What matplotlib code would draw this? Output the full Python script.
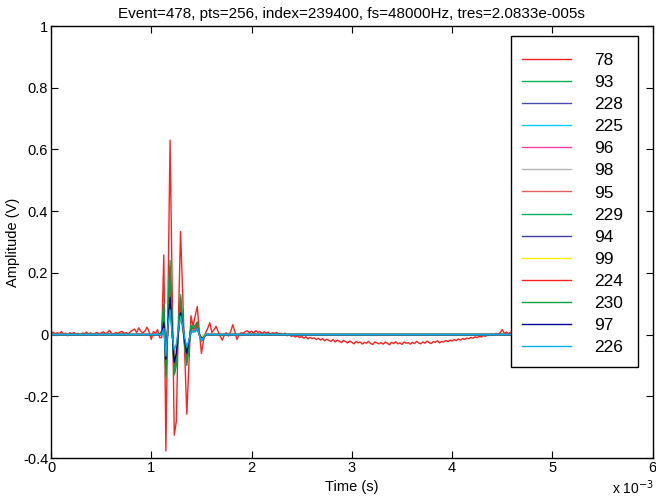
import numpy as np
import matplotlib
matplotlib.use("Agg")
import matplotlib.pyplot as plt
import matplotlib.ticker as mticker
from matplotlib.patches import Rectangle

plt.rcParams["font.family"] = ["Liberation Sans", "DejaVu Sans"]
plt.rcParams["axes.unicode_minus"] = False

# --- Data ---
TRES = 2.0833e-5
N_PTS = 256
BURST_START = 52          # first sample index of the burst lists below

CHANNELS = ["78", "93", "228", "225", "96", "98", "95", "229", "94", "99", "224", "230", "97", "226"]
COLORS = ["#ff2020", "#00b050", "#4b4bb4", "#00ccff", "#ff40a0", "#b4b4b4", "#e06060",
          "#00b060", "#4040a0", "#ffee00", "#ff2020", "#00a040", "#000090", "#00b0f0"]

# channel 78: full trace (256 samples)
ch78 = [
    0.004, 0.008, 0.002, 0.006, 0.003, 0.010, 0.001, 0.005, -0.004, 0.006, 0.002, 0.007, 0.000, 0.004, -0.003, 0.005,
    0.003, 0.008, 0.001, 0.006, -0.002, 0.004, 0.007, 0.002, 0.005, 0.009, 0.003, 0.006, 0.014, 0.004, 0.002, 0.007,
    0.003, 0.008, 0.010, 0.004, 0.006, 0.002, 0.009, 0.014, 0.018, 0.006, 0.022, 0.010, 0.005, 0.012, 0.024, 0.008,
    -0.016, 0.010, 0.004, 0.016, -0.010, -0.010, 0.258, -0.377, 0.120, 0.630, 0.150, -0.326, -0.280, 0.050, 0.334, 0.137,
    -0.060, -0.258, -0.100, 0.061, 0.027, 0.060, 0.091, 0.010, -0.061, -0.020, 0.006, 0.020, 0.038, 0.007, 0.015, 0.027,
    0.010, -0.005, -0.018, 0.000, 0.006, -0.005, 0.010, 0.032, 0.010, -0.016, 0.000, 0.006, 0.004, 0.010, 0.012, 0.006,
    0.011, 0.004, 0.013, 0.007, 0.010, 0.003, 0.009, 0.005, 0.008, 0.002, 0.006, 0.004, 0.007, 0.001, 0.004, -0.002,
    0.005, -0.004, 0.002, -0.006, -0.003, -0.008, -0.004, -0.010, -0.006, -0.012, -0.007, -0.014, -0.009, -0.013, -0.011, -0.016,
    -0.012, -0.018, -0.013, -0.020, -0.015, -0.019, -0.022, -0.016, -0.024, -0.018, -0.021, -0.026, -0.019, -0.023, -0.027, -0.021,
    -0.025, -0.030, -0.022, -0.027, -0.024, -0.031, -0.025, -0.028, -0.022, -0.029, -0.032, -0.024, -0.027, -0.030, -0.026, -0.031,
    -0.024, -0.028, -0.033, -0.025, -0.029, -0.023, -0.030, -0.027, -0.032, -0.024, -0.028, -0.026, -0.031, -0.025, -0.029, -0.022,
    -0.027, -0.030, -0.024, -0.028, -0.021, -0.026, -0.029, -0.023, -0.025, -0.020, -0.027, -0.022, -0.024, -0.019, -0.023, -0.018,
    -0.021, -0.016, -0.020, -0.014, -0.018, -0.013, -0.016, -0.011, -0.014, -0.009, -0.012, -0.007, -0.010, -0.005, -0.008, -0.003,
    -0.006, 0.000, -0.003, 0.002, -0.001, 0.004, 0.001, 0.006, 0.016, 0.004, 0.008, 0.003, 0.007, 0.002, 0.006, 0.003,
    0.008, 0.004, 0.006, 0.002, 0.007, 0.005, 0.009, 0.003, 0.006, 0.004, 0.008, 0.002, 0.005, 0.007, 0.003, 0.006,
    0.004, 0.008, 0.002, 0.005, 0.006, 0.003, 0.007, 0.004, 0.005, 0.002, 0.006, 0.003, 0.004, 0.005, 0.003, 0.004,
]

# other channels: samples 52..75, flat at 0 elsewhere
ch93 = [0.00, 0.01, 0.10, -0.14, 0.05, 0.24, 0.02, -0.13, -0.10, 0.02, 0.13, 0.05, -0.04, -0.10, -0.04, 0.03, 0.02, 0.03, 0.04, 0.00, -0.02, -0.01, 0.00, 0.00]
ch228 = [0.00, 0.00, 0.05, -0.10, 0.03, 0.12, 0.01, -0.09, -0.07, 0.01, 0.07, 0.03, -0.02, -0.06, -0.03, 0.01, 0.01, 0.02, 0.02, 0.00, -0.01, -0.01, 0.00, 0.00]
ch225 = [0.00, 0.00, 0.04, -0.08, 0.02, 0.10, 0.00, -0.07, -0.05, 0.01, 0.06, 0.02, -0.02, -0.05, -0.02, 0.01, 0.01, 0.01, 0.02, 0.00, -0.01, 0.00, 0.00, 0.00]
ch96 = [0.00, 0.01, 0.06, -0.09, 0.04, 0.15, 0.01, -0.08, -0.06, 0.02, 0.08, 0.03, -0.02, -0.07, -0.03, 0.02, 0.01, 0.02, 0.03, 0.00, -0.01, -0.01, 0.00, 0.00]
ch98 = [0.00, 0.00, 0.05, -0.07, 0.03, 0.13, 0.01, -0.07, -0.05, 0.01, 0.07, 0.02, -0.02, -0.06, -0.02, 0.01, 0.01, 0.01, 0.02, 0.00, -0.01, 0.00, 0.00, 0.00]
ch95 = [0.00, 0.01, 0.07, -0.10, 0.04, 0.17, 0.02, -0.09, -0.07, 0.02, 0.09, 0.04, -0.03, -0.07, -0.03, 0.02, 0.01, 0.02, 0.03, 0.00, -0.02, -0.01, 0.00, 0.00]
ch229 = [0.00, 0.01, 0.08, -0.12, 0.04, 0.20, 0.02, -0.12, -0.08, 0.02, 0.11, 0.04, -0.03, -0.09, -0.03, 0.02, 0.02, 0.02, 0.03, 0.00, -0.02, -0.01, 0.00, 0.00]
ch94 = [0.00, 0.00, 0.05, -0.11, 0.03, 0.11, 0.01, -0.10, -0.07, 0.01, 0.07, 0.03, -0.02, -0.07, -0.03, 0.01, 0.01, 0.01, 0.02, 0.00, -0.01, -0.01, 0.00, 0.00]
ch99 = [0.00, 0.00, 0.06, -0.09, 0.03, 0.09, 0.01, -0.08, -0.05, 0.01, 0.06, 0.02, -0.02, -0.05, -0.02, 0.01, 0.01, 0.01, 0.02, 0.00, -0.01, 0.00, 0.00, 0.00]
ch224 = [0.00, 0.01, 0.07, -0.11, 0.04, 0.14, 0.02, -0.10, -0.08, 0.02, 0.09, 0.03, -0.03, -0.08, -0.03, 0.02, 0.02, 0.02, 0.03, 0.00, -0.02, -0.01, 0.00, 0.00]
ch230 = [0.00, 0.01, 0.09, -0.13, 0.05, 0.22, 0.02, -0.13, -0.09, 0.02, 0.12, 0.05, -0.03, -0.09, -0.04, 0.03, 0.02, 0.03, 0.04, 0.00, -0.02, -0.01, 0.00, 0.00]
ch97 = [0.00, 0.00, 0.04, -0.08, 0.03, 0.12, 0.01, -0.09, -0.06, 0.01, 0.07, 0.03, -0.02, -0.06, -0.02, 0.01, 0.01, 0.01, 0.02, 0.00, -0.01, -0.01, 0.00, 0.00]
ch226 = [0.00, 0.00, 0.02, -0.07, 0.03, 0.08, 0.00, -0.05, -0.03, 0.02, 0.06, 0.03, -0.01, -0.04, -0.02, 0.01, 0.01, 0.01, 0.02, 0.00, -0.02, -0.01, 0.00, 0.00]

BURSTS = [ch93, ch228, ch225, ch96, ch98, ch95, ch229, ch94, ch99, ch224, ch230, ch97, ch226]


def full_trace(burst):
    y = np.zeros(N_PTS)
    y[BURST_START:BURST_START + len(burst)] = burst
    return y


traces = [np.array(ch78)] + [full_trace(b) for b in BURSTS]
t = np.arange(N_PTS) * TRES

# --- Plot ---
fig = plt.figure(figsize=(6.56, 4.99), dpi=100)
ax = fig.add_axes([51 / 656, 41 / 499, 601.7 / 656, 432 / 499])

for y, c, name in zip(traces, COLORS, CHANNELS):
    ax.plot(t, y, color=c, linewidth=1.0, label=name)

ax.set_xlim(0, 0.006)
ax.set_ylim(-0.4, 1.0)
ax.set_xticks(np.arange(0, 0.0061, 0.001))
ax.set_yticks([-0.4, -0.2, 0, 0.2, 0.4, 0.6, 0.8, 1.0])
ax.xaxis.set_major_formatter(mticker.FuncFormatter(lambda v, _: f"{v * 1e3:g}"))
ax.yaxis.set_major_formatter(mticker.FuncFormatter(lambda v, _: f"{round(v, 2):g}"))
ax.tick_params(direction="in", length=5, width=0.8, top=True, right=True, labelsize=10.5, pad=2)
for s in ax.spines.values():
    s.set_linewidth(1.0)

ax.set_title("Event=478, pts=256, index=239400, fs=48000Hz, tres=2.0833e-005s", fontsize=11, pad=6)
ax.set_xlabel("Time (s)", fontsize=10.5, labelpad=4)
ax.set_ylabel("Amplitude (V)", fontsize=10.5, labelpad=2)
fig.text(612 / 656, 2 / 499, r"x 10$^{-3}$", fontsize=10, ha="left", va="bottom")

# legend box drawn as a plain white rectangle, entries placed inside
ax.add_patch(Rectangle((0.7645, 0.2106), 0.2111, 0.7662, transform=ax.transAxes,
                       facecolor="white", edgecolor="black", linewidth=1.0, zorder=4))
leg = ax.legend(loc="upper left", bbox_to_anchor=(0.7828, 0.938), borderaxespad=0, borderpad=0,
                fontsize=12.5, handlelength=2.8, handletextpad=1.37, labelspacing=0.40,
                frameon=False)
leg.set_zorder(5)

fig.savefig("out.png", dpi=100)
